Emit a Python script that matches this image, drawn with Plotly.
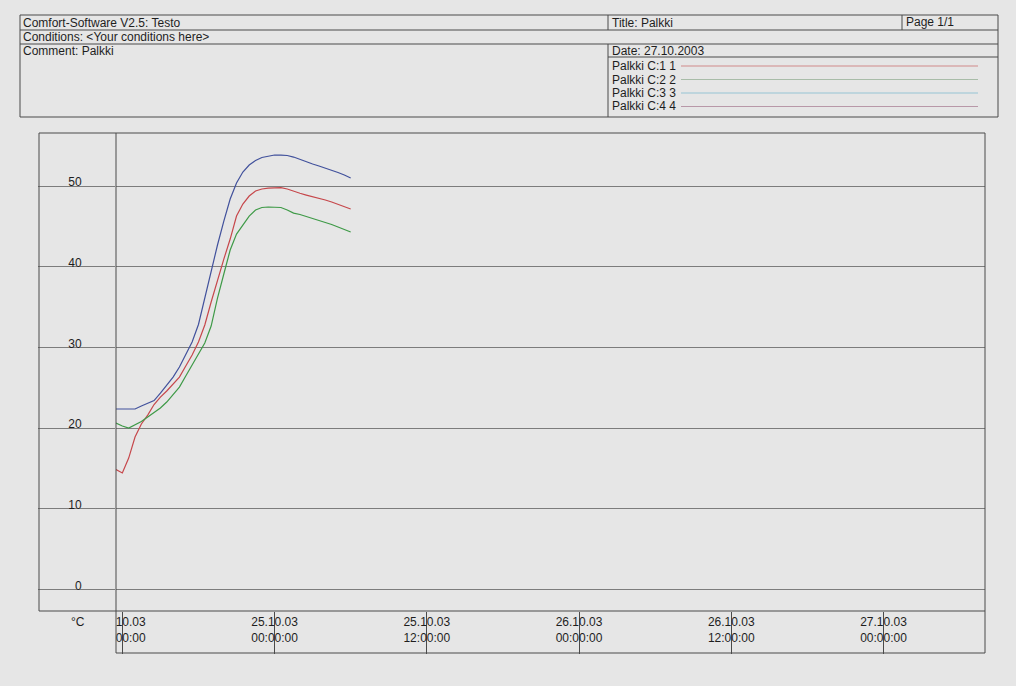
import pandas as pd
import plotly.graph_objects as go

# ---------------- data ----------------
times = pd.date_range("2003-10-24 11:30", periods=38, freq="30min")

c1_red = [14.87, 14.44, 16.29, 18.90, 20.51, 21.62, 22.92, 23.85, 24.60, 25.40,
          26.33, 27.70, 29.06, 30.67, 32.78, 35.63, 38.35, 40.95, 43.43, 46.28,
          47.77, 48.76, 49.38, 49.63, 49.75, 49.81, 49.81, 49.63, 49.32, 49.10,
          48.88, 48.70, 48.51, 48.27, 48.02, 47.71, 47.40, 47.15]
c2_green = [20.63, 20.26, 20.01, 20.38, 20.82, 21.38, 21.93, 22.49, 23.23, 24.10,
            25.09, 26.46, 27.82, 29.06, 30.55, 32.65, 36.12, 39.10, 42.07, 44.05,
            45.17, 46.28, 47.03, 47.34, 47.40, 47.40, 47.34, 47.03, 46.65, 46.47,
            46.22, 46.03, 45.79, 45.54, 45.23, 44.92, 44.61, 44.30]
c3_blue = [22.37, 22.37, 22.30, 22.37, 22.74, 23.05, 23.42, 24.35, 25.28, 26.33,
           27.57, 29.06, 30.67, 32.84, 36.12, 39.72, 42.69, 45.66, 48.39, 50.37,
           51.73, 52.60, 53.16, 53.53, 53.66, 53.84, 53.84, 53.78, 53.59, 53.28,
           52.97, 52.73, 52.48, 52.23, 51.98, 51.67, 51.36, 50.99]

x_tickvals = ["2003-10-24 12:00", "2003-10-25 00:00", "2003-10-25 12:00",
              "2003-10-26 00:00", "2003-10-26 12:00", "2003-10-27 00:00"]
NB = "\u00a0" * 5
x_ticktext = [NB + "10.03<br>" + NB + "00:00",
              "25.10.03<br>00:00:00", "25.10.03<br>12:00:00",
              "26.10.03<br>00:00:00", "26.10.03<br>12:00:00",
              "27.10.03<br>00:00:00"]
y_tickvals = [0, 10, 20, 30, 40, 50]
y_ticktext = ["0", "10", "20", "30", "40", "50"]

legend_names = ["Palkki C:1 1", "Palkki C:2 2", "Palkki C:3 3", "Palkki C:4 4"]
legend_colors = ["#d08a8a", "#a8bca8", "#96c4d4", "#b898a8"]

# ---------------- style ----------------
W, H = 1016, 686
PL, PR, PT, PB = 116, 985, 133, 611
BG = "#e6e6e6"
LINE = "#4a4a4a"
GRID = "#7c7c7c"
TXT = "#1e1e1e"
FONT = "Liberation Sans, Arial, sans-serif"


def px(x):
    return (x - PL) / (PR - PL)


def py(y):
    return (PB - y) / (PB - PT)


fig = go.Figure()
for vals, col in [(c3_blue, "#41519c"), (c1_red, "#c6474b"), (c2_green, "#3e9a47")]:
    fig.add_trace(go.Scatter(x=times, y=vals, mode="lines",
                             line=dict(color=col, width=1.2),
                             showlegend=False, hoverinfo="skip"))

fig.update_layout(
    width=W, height=H,
    margin=dict(l=PL, r=W - PR, t=PT, b=H - PB),
    paper_bgcolor=BG, plot_bgcolor=BG,
    font=dict(family=FONT, size=12, color=TXT),
    showlegend=False,
)
fig.update_xaxes(type="date", range=["2003-10-24 11:30", "2003-10-27 08:00"],
                 tickmode="array", tickvals=x_tickvals, ticktext=x_ticktext,
                 ticks="outside", ticklen=42, tickcolor=LINE, tickwidth=1,
                 showgrid=False, zeroline=False, showline=False,
                 ticklabelstandoff=-42,
                 tickfont=dict(family=FONT, size=12, color=TXT))
fig.update_yaxes(range=[-2.66, 56.57], tickmode="array",
                 tickvals=y_tickvals, ticktext=y_ticktext,
                 ticks="outside", ticklen=77, tickcolor=GRID, tickwidth=1,
                 showgrid=True, gridcolor=GRID, gridwidth=1,
                 zeroline=False, showline=False,
                 ticklabelposition="outside top", ticklabelstandoff=31,
                 ticklabelshift=5,
                 tickfont=dict(family=FONT, size=12, color=TXT))

shapes = []


def line(x0, y0, x1, y1, color=LINE, width=1):
    shapes.append(dict(type="line", xref="paper", yref="paper",
                       x0=px(x0), y0=py(y0), x1=px(x1), y1=py(y1),
                       line=dict(color=color, width=width)))


def rect(x0, y0, x1, y1):
    shapes.append(dict(type="rect", xref="paper", yref="paper",
                       x0=px(x0), y0=py(y0), x1=px(x1), y1=py(y1),
                       line=dict(color=LINE, width=1), fillcolor="rgba(0,0,0,0)"))


# chart frame
rect(39, 133, 985, 611)
line(116, 133, 116, 653)
line(116, 653, 985, 653)
line(985, 611, 985, 653)
# header table
rect(20, 15, 998, 117)
line(20, 30, 998, 30)
line(20, 44, 998, 44)
line(608, 15, 608, 30)
line(608, 44, 608, 117)
line(902, 15, 902, 30)
line(608, 57, 998, 57)

annotations = []


def text(x, y, s, anchor="left"):
    annotations.append(dict(xref="paper", yref="paper", x=px(x), y=py(y),
                            text=s, showarrow=False, xanchor=anchor,
                            yanchor="middle",
                            font=dict(family=FONT, size=12, color=TXT)))


text(21, 23, "Comfort-Software V2.5: Testo")
text(21, 37, "Conditions: &lt;Your conditions here&gt;")
text(21, 51, "Comment: Palkki")
text(610, 23, "Title: Palkki")
text(904, 22, "Page 1/1")
text(610, 51, "Date: 27.10.2003")
leg_y = [66, 79.5, 93, 106.5]
for name, col, yy in zip(legend_names, legend_colors, leg_y):
    text(610, yy, name)
    line(681, yy, 978, yy, color=col, width=1)
text(78, 622, "°C", anchor="center")

fig.update_layout(shapes=shapes, annotations=annotations)
fig.write_html("out.html",
               config={"displayModeBar": False},
               post_script="document.body.style.margin='0px';"
                           "document.body.style.background='" + BG + "';")
